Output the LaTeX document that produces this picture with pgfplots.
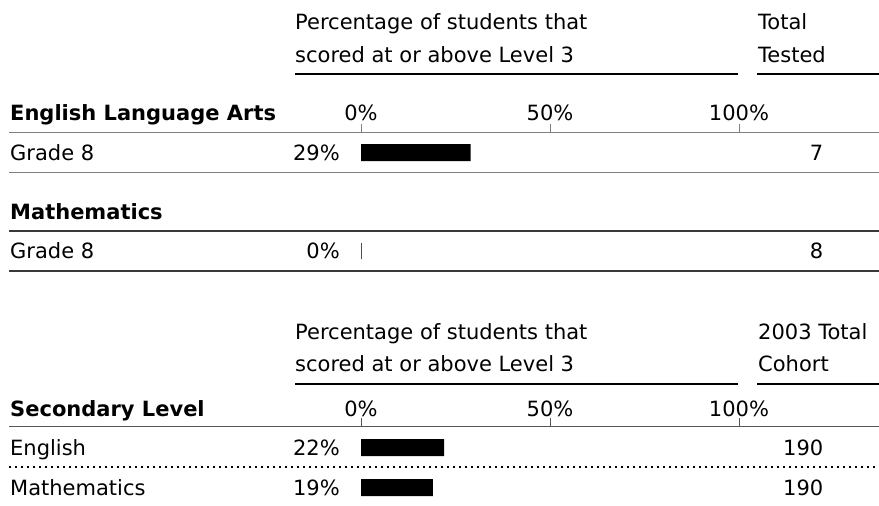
\documentclass[border=0pt]{standalone}
\usepackage{fontspec}
\setmainfont{DejaVu Sans}
\usepackage{pgfplots}
\pgfplotsset{compat=1.18}
\definecolor{rulegray}{HTML}{808080}
\definecolor{darkrule}{HTML}{3A3A3A}
\definecolor{midrule}{HTML}{555555}
\begin{document}
\begin{tikzpicture}[font=\fontsize{21}{25}\selectfont]
\useasboundingbox (0,0) rectangle (879pt,506pt);
\begin{axis}[at={(0,0)}, anchor=south west,
  width=879pt, height=506pt, scale only axis, hide axis,
  xmin=-95.503, xmax=137.037, ymin=0, ymax=506, y dir=reverse, clip=false]
% percentage scored at or above Level 3
\addplot[xbar, bar shift=0pt, bar width=17pt, fill=black, draw=none]
  coordinates {(29,152.5) (22,447.5) (19,487.5)};
\addplot[xbar, bar shift=0pt, bar width=16pt, fill=black, draw=black, line width=0.9pt]
  coordinates {(0,251)};
% tick marks and labels, first block
\draw[rulegray, line width=1pt] (axis cs:0,124) -- (axis cs:0,132.7);
\draw[rulegray, line width=1pt] (axis cs:50,124) -- (axis cs:50,132.7);
\draw[rulegray, line width=1pt] (axis cs:100,124) -- (axis cs:100,132.7);
\node[anchor=base, inner sep=0pt] at (axis cs:0,120.7) {0\%};
\node[anchor=base, inner sep=0pt] at (axis cs:50,120.7) {50\%};
\node[anchor=base, inner sep=0pt] at (axis cs:100,120.7) {100\%};
% second block
\draw[midrule, line width=1pt] (axis cs:0,418) -- (axis cs:0,426.7);
\draw[midrule, line width=1pt] (axis cs:50,418) -- (axis cs:50,426.7);
\draw[midrule, line width=1pt] (axis cs:100,418) -- (axis cs:100,426.7);
\node[anchor=base, inner sep=0pt] at (axis cs:0,416.7) {0\%};
\node[anchor=base, inner sep=0pt] at (axis cs:50,416.7) {50\%};
\node[anchor=base, inner sep=0pt] at (axis cs:100,416.7) {100\%};
\end{axis}
\begin{scope}[x=1pt, y=-1pt, shift={(0pt,506pt)}]
  % header rules
  \draw[black, line width=2pt] (295,74) -- (738,74);
  \draw[black, line width=2pt] (757,74) -- (879,74);
  \draw[black, line width=2pt] (295,384) -- (738,384);
  \draw[black, line width=2pt] (757,384) -- (879,384);
  % section rules
  \draw[rulegray, line width=1.6pt] (9,132.7) -- (879,132.7);
  \draw[rulegray, line width=1.6pt] (9,172.7) -- (879,172.7);
  \draw[darkrule, line width=1.6pt] (9,231) -- (879,231);
  \draw[darkrule, line width=1.6pt] (9,271) -- (879,271);
  \draw[midrule, line width=1.6pt] (9,426.7) -- (879,426.7);
  \draw[black, line width=2pt, dash pattern=on 2pt off 4pt] (9,467.3) -- (879,467.3);
  % headers
  \node[anchor=base west, inner sep=0pt] at (295,29.5) {Percentage of students that};
  \node[anchor=base west, inner sep=0pt] at (295,62.5) {scored at or above Level 3};
  \node[anchor=base west, inner sep=0pt] at (758,29.5) {Total};
  \node[anchor=base west, inner sep=0pt] at (758,62.5) {Tested};
  \node[anchor=base west, inner sep=0pt] at (295,340) {Percentage of students that};
  \node[anchor=base west, inner sep=0pt] at (295,372) {scored at or above Level 3};
  \node[anchor=base west, inner sep=0pt] at (758,340) {2003 Total};
  \node[anchor=base west, inner sep=0pt] at (758,372) {Cohort};
  % section titles
  \node[anchor=base west, inner sep=0pt, font=\fontsize{21}{25}\selectfont\bfseries] at (10,120.7) {English Language Arts};
  \node[anchor=base west, inner sep=0pt, font=\fontsize{21}{25}\selectfont\bfseries] at (10,220) {Mathematics};
  \node[anchor=base west, inner sep=0pt, font=\fontsize{21}{25}\selectfont\bfseries] at (10,416.7) {Secondary Level};
  % rows
  \node[anchor=base west, inner sep=0pt] at (10,160.7) {Grade 8};
  \node[anchor=base east, inner sep=0pt] at (340,160.7) {29\%};
  \node[anchor=base east, inner sep=0pt] at (823.5,160.7) {7};
  \node[anchor=base west, inner sep=0pt] at (10,259) {Grade 8};
  \node[anchor=base east, inner sep=0pt] at (340,259) {0\%};
  \node[anchor=base east, inner sep=0pt] at (823.5,259) {8};
  \node[anchor=base west, inner sep=0pt] at (10,456) {English};
  \node[anchor=base east, inner sep=0pt] at (340,456) {22\%};
  \node[anchor=base east, inner sep=0pt] at (823.5,456) {190};
  \node[anchor=base west, inner sep=0pt] at (10,495.5) {Mathematics};
  \node[anchor=base east, inner sep=0pt] at (340,495.5) {19\%};
  \node[anchor=base east, inner sep=0pt] at (823.5,495.5) {190};
\end{scope}
\end{tikzpicture}
\end{document}
